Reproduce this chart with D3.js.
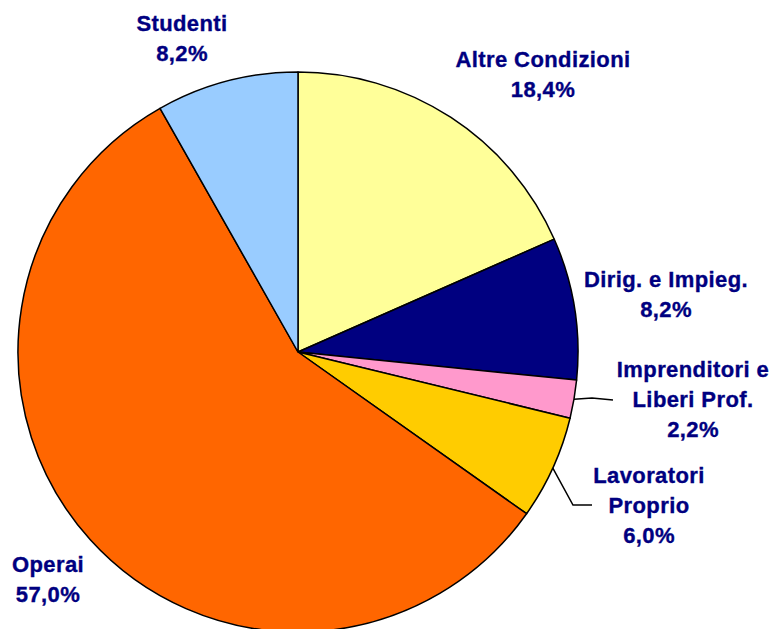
<!DOCTYPE html>
<html>
<head>
<meta charset="utf-8">
<script src="https://cdn.jsdelivr.net/npm/d3@7/dist/d3.min.js"></script>
<style>
  html, body { margin: 0; padding: 0; background: #fff; }
  svg { display: block; }
  .lbl { font-family: "Liberation Sans", Arial, sans-serif; font-weight: bold; font-size: 22px; letter-spacing: 0.4px; fill: #000080; stroke: #000080; stroke-width: 0.35px; }
</style>
</head>
<body>
<svg id="chart" width="776" height="629"></svg>
<script>
// Composition by occupational condition (percent), clockwise from 12 o'clock
const categories = ["Altre Condizioni", "Dirig. e Impieg.", "Imprenditori e Liberi Prof.", "Lavoratori Proprio", "Operai", "Studenti"];
const values = [18.4, 8.2, 2.2, 6.0, 57.0, 8.2];
const labelLines = [
  ["Altre Condizioni"],
  ["Dirig. e Impieg."],
  ["Imprenditori e", "Liberi Prof."],
  ["Lavoratori", "Proprio"],
  ["Operai"],
  ["Studenti"]
];
const colors = ["#FFFF99", "#000080", "#FF99CC", "#FFCC00", "#FF6600", "#99CCFF"];

// Label placement (centre x, first baseline y) and optional leader elbow
const layout = [
  { x: 543, y: 67 },
  { x: 666, y: 287 },
  { x: 693, y: 377, leader: [[592, 398], [613, 400]] },
  { x: 649, y: 483, leader: [[573, 505], [592, 505]] },
  { x: 48,  y: 572 },
  { x: 182, y: 31 }
];
const lineGap = 30;

const cx = 298, cy = 352, radius = 280;
const svg = d3.select("#chart");
const g = svg.append("g").attr("transform", `translate(${cx},${cy})`);

const pie = d3.pie().value(d => d).sort(null);
const arcs = pie(values);
const arc = d3.arc().innerRadius(0).outerRadius(radius);

g.selectAll("path.slice")
  .data(arcs)
  .join("path")
  .attr("class", "slice")
  .attr("d", arc)
  .attr("fill", (d, i) => colors[i])
  .attr("stroke", "#000")
  .attr("stroke-width", 1.5)
  .attr("stroke-linejoin", "round");

const fmt = v => d3.format(".1f")(v).replace(".", ",") + "%";

// Leader lines from the rim at each slice's mid angle
arcs.forEach((a, i) => {
  const L = layout[i];
  if (!L.leader) return;
  const mid = (a.startAngle + a.endAngle) / 2;
  const start = [cx + radius * Math.sin(mid), cy - radius * Math.cos(mid)];
  svg.append("path")
    .attr("d", d3.line()([start, ...L.leader]))
    .attr("fill", "none")
    .attr("stroke", "#000")
    .attr("stroke-width", 1.5);
});

// Category labels with percentage on the last line
arcs.forEach((a, i) => {
  const L = layout[i];
  const lines = [...labelLines[i], fmt(values[i])];
  const t = svg.append("text")
    .attr("class", "lbl")
    .attr("text-anchor", "middle");
  lines.forEach((s, k) => {
    t.append("tspan")
      .attr("x", L.x)
      .attr("y", L.y + k * lineGap)
      .text(s);
  });
});
</script>
</body>
</html>
